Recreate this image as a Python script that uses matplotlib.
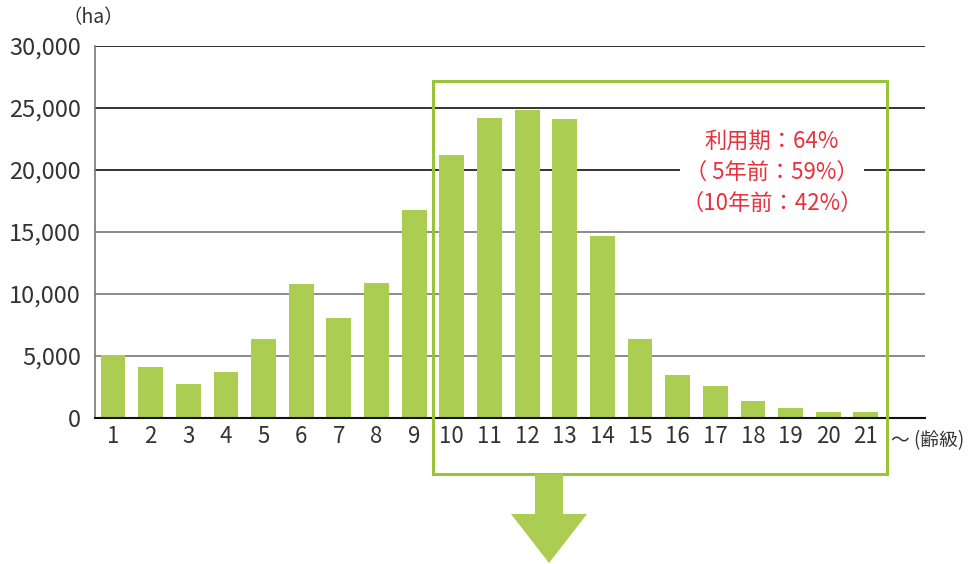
import numpy as np
import matplotlib.pyplot as plt
from matplotlib.patches import Rectangle, Polygon

plt.rcParams['font.family'] = ['Noto Sans CJK JP', 'DejaVu Sans']

age_class = list(range(1, 22))
area_ha = [5100, 4100, 2750, 3700, 6400, 10800, 8100, 10900, 16800, 21200,
           24200, 24800, 24100, 14700, 6400, 3500, 2600, 1400, 800, 450, 450]
yticks = [0, 5000, 10000, 15000, 20000, 25000, 30000]
note_lines = ['利用期：64%', '（ 5年前：59%）', '（10年前：42%）']

bar_color = '#aacd52'
frame_color = '#99c43a'
red = '#e8313c'


def main():
    fig = plt.figure(figsize=(9.71, 5.64), dpi=100)
    ax = fig.add_axes([0.0978, 0.2589, 0.8548, 0.6595])

    ax.bar(age_class, area_ha, width=0.66, color=bar_color, zorder=2)
    ax.set_xlim(0.52, 22.57)
    ax.set_ylim(0, 30000)

    # gridlines: upper ones dark, lower ones gray
    for v in yticks[1:]:
        c = '#111111' if v >= 20000 else '#777777'
        ax.axhline(v, color=c, lw=1.2, zorder=1)

    ax.set_yticks(yticks)
    ax.set_yticklabels(['{:,}'.format(v) for v in yticks], fontsize=17, color='#333333')
    ax.set_xticks(age_class)
    ax.set_xticklabels([str(a) for a in age_class], fontsize=16, color='#333333')
    ax.tick_params(axis='both', length=0)
    ax.tick_params(axis='y', pad=10)
    ax.tick_params(axis='x', pad=5)

    for s in ['top', 'right']:
        ax.spines[s].set_visible(False)
    ax.spines['left'].set_color('#777777')
    ax.spines['left'].set_linewidth(1.2)
    ax.spines['bottom'].set_color('#111111')
    ax.spines['bottom'].set_linewidth(1.5)
    ax.spines['bottom'].set_zorder(3)

    # unit labels
    fig.text(0.064, 0.968, '（ha）', fontsize=14, color='#333333', ha='left', va='center')
    fig.text(0.918, 0.218, '～ (齢級)', fontsize=13.5, color='#333333', ha='left', va='center')

    # red note with white background to break gridline
    ax.text(18.5, 19800, '\n'.join(note_lines), fontsize=16, color=red,
            ha='center', va='center', linespacing=1.45, zorder=4,
            bbox=dict(facecolor='white', edgecolor='none', pad=1))

    # green frame around age classes 10-21
    rect = Rectangle((9.5, -4516), 12.05, 31700, fill=False, edgecolor=frame_color,
                     lw=2.2, clip_on=False, zorder=5)
    ax.add_patch(rect)

    # down arrow below the frame (figure pixel coords)
    W, H = 971, 564
    pts = [(535, 474), (563, 474), (563, 514), (587, 514), (549, 563),
           (511, 514), (535, 514)]
    arrow = Polygon([(x / W, 1 - y / H) for x, y in pts], closed=True,
                    transform=fig.transFigure, facecolor=bar_color, edgecolor='none')
    fig.patches.append(arrow)

    fig.savefig('out.png', dpi=100)


if __name__ == '__main__':
    main()
